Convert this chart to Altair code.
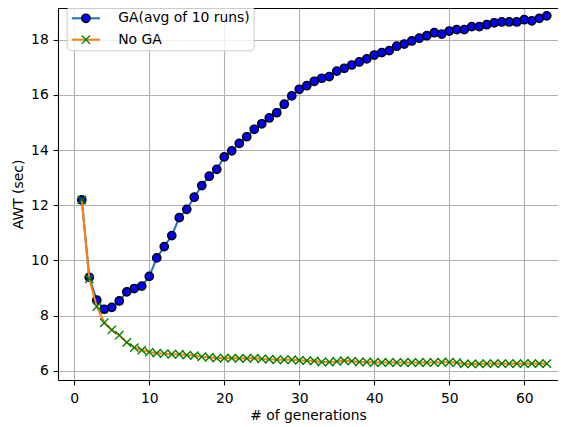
import altair as alt
import pandas as pd

GA_LABEL = "GA(avg of 10 runs)"
NOGA_LABEL = "No GA"

generations = [1, 2, 3, 4, 5, 6, 7, 8, 9, 10, 11, 12, 13, 14, 15, 16, 17, 18, 19, 20,
               21, 22, 23, 24, 25, 26, 27, 28, 29, 30, 31, 32, 33, 34, 35, 36, 37, 38, 39, 40,
               41, 42, 43, 44, 45, 46, 47, 48, 49, 50, 51, 52, 53, 54, 55, 56, 57, 58, 59, 60,
               61, 62, 63]

ga_awt = [12.19, 9.39, 8.56, 8.23, 8.30, 8.53, 8.86, 8.98, 9.07, 9.42,
          10.09, 10.50, 10.90, 11.55, 11.85, 12.29, 12.71, 13.05, 13.30, 13.75,
          13.97, 14.24, 14.48, 14.75, 14.95, 15.16, 15.35, 15.66, 15.96, 16.20,
          16.33, 16.49, 16.60, 16.66, 16.86, 16.96, 17.08, 17.19, 17.30, 17.44,
          17.53, 17.60, 17.76, 17.84, 17.95, 18.05, 18.14, 18.25, 18.20, 18.31,
          18.36, 18.36, 18.47, 18.47, 18.54, 18.61, 18.64, 18.64, 18.64, 18.72,
          18.68, 18.77, 18.86]

noga_awt = [12.19, 9.33, 8.33, 7.74, 7.48, 7.29, 7.03, 6.84, 6.75, 6.68,
            6.64, 6.62, 6.60, 6.60, 6.57, 6.55, 6.51, 6.49, 6.46, 6.46,
            6.46, 6.45, 6.45, 6.46, 6.43, 6.42, 6.40, 6.40, 6.40, 6.38,
            6.37, 6.36, 6.32, 6.32, 6.34, 6.37, 6.35, 6.32, 6.32, 6.30,
            6.30, 6.30, 6.30, 6.30, 6.30, 6.30, 6.30, 6.30, 6.31, 6.31,
            6.30, 6.25, 6.25, 6.25, 6.26, 6.26, 6.26, 6.26, 6.26, 6.26,
            6.26, 6.26, 6.26]

x_ticks = [0, 10, 20, 30, 40, 50, 60]
y_ticks = [6, 8, 10, 12, 14, 16, 18]

rows = []
for g, v in zip(generations, ga_awt):
    rows.append({"gen": g, "awt": v, "series": GA_LABEL, "marker": GA_LABEL})
for g, v in zip(generations, noga_awt):
    rows.append({"gen": g, "awt": v, "series": NOGA_LABEL, "marker": NOGA_LABEL})
df = pd.DataFrame(rows)

FONT = "DejaVu Sans"
FS = 13.9
W, H = 500, 372

CIRCLE = "M-0.556,0A0.556,0.556,0,1,1,0.556,0A0.556,0.556,0,1,1,-0.556,0Z"
XMARK = "M-0.556,-0.556L0.556,0.556M-0.556,0.556L0.556,-0.556"

x_enc = alt.X("gen:Q",
              scale=alt.Scale(domain=[-2.17, 64.5], nice=False, zero=False),
              axis=alt.Axis(values=x_ticks, format="d", title="# of generations",
                            labelPadding=7, titlePadding=3))
y_enc = alt.Y("awt:Q",
              scale=alt.Scale(domain=[5.667, 19.145], nice=False, zero=False),
              axis=alt.Axis(values=y_ticks, format="d", title="AWT (sec)",
                            labelPadding=4.86, titlePadding=5.6))

line_legend = alt.Legend(orient="none", legendX=8.7, legendY=-1.7, title=None,
                         symbolType="M-2.02,0H2.02", symbolSize=196, symbolStrokeWidth=2.08,
                         symbolOffset=7.2, padding=3.5, rowPadding=5.4, labelOffset=23.8,
                         labelFont=FONT, labelFontSize=FS, labelColor="black", labelLimit=400,
                         fillColor="rgba(255,255,255,0.8)", strokeColor="#cccccc",
                         cornerRadius=4, zindex=1)

marker_legend = alt.Legend(orient="none", legendX=8.7, legendY=-1.7, title=None,
                           symbolSize=225, symbolStrokeWidth=1.39, symbolOffset=7.2,
                           padding=3.5, rowPadding=5.4, labelOffset=23.8,
                           labelFont=FONT, labelFontSize=FS, labelOpacity=0,
                           symbolOpacity=1, zindex=2)

color_enc = alt.Color("series:N", scale=alt.Scale(range=["#1f77b4", "#ff7f0e"]), legend=line_legend)
fill_enc = alt.Fill("marker:N", scale=alt.Scale(range=["#0000ff", "transparent"]), legend=marker_legend)
stroke_enc = alt.Stroke("marker:N", scale=alt.Scale(range=["#000000", "#008000"]), legend=marker_legend)
shape_enc = alt.Shape("marker:N", scale=alt.Scale(range=[CIRCLE, XMARK]), legend=marker_legend)

base = alt.Chart(df)


def line_layer(label):
    return base.transform_filter(alt.datum.series == label).mark_line(strokeWidth=2.08).encode(
        x=x_enc, y=y_enc, color=color_enc, order="gen:Q")


def point_layer(label):
    return base.transform_filter(alt.datum.series == label).mark_point(
        size=225, strokeWidth=1.39, opacity=1).encode(
        x=x_enc, y=y_enc, fill=fill_enc, stroke=stroke_enc, shape=shape_enc)


top_spine = alt.Chart(df).mark_rule(color="black", strokeWidth=1.1).encode(
    x=alt.value(0), x2=alt.value(W + 10), y=alt.value(0))

chart = alt.layer(
    line_layer(GA_LABEL), point_layer(GA_LABEL),
    line_layer(NOGA_LABEL), point_layer(NOGA_LABEL),
    top_spine,
).properties(
    width=W, height=H,
    autosize=alt.AutoSizeParams(type="none"),
    padding={"left": 50, "top": 0, "right": 0, "bottom": 47},
).configure_axis(
    labelFont=FONT, labelFontSize=FS, labelColor="black",
    titleFont=FONT, titleFontSize=FS, titleFontWeight="normal", titleColor="black",
    gridColor="#b0b0b0", gridWidth=1.1, tickColor="black", tickWidth=1.1, tickSize=4.86,
    domain=True, domainColor="black", domainWidth=1.1,
).configure_view(stroke=None)

chart.save("out.html", embed_options={"renderer": "svg", "actions": False})
